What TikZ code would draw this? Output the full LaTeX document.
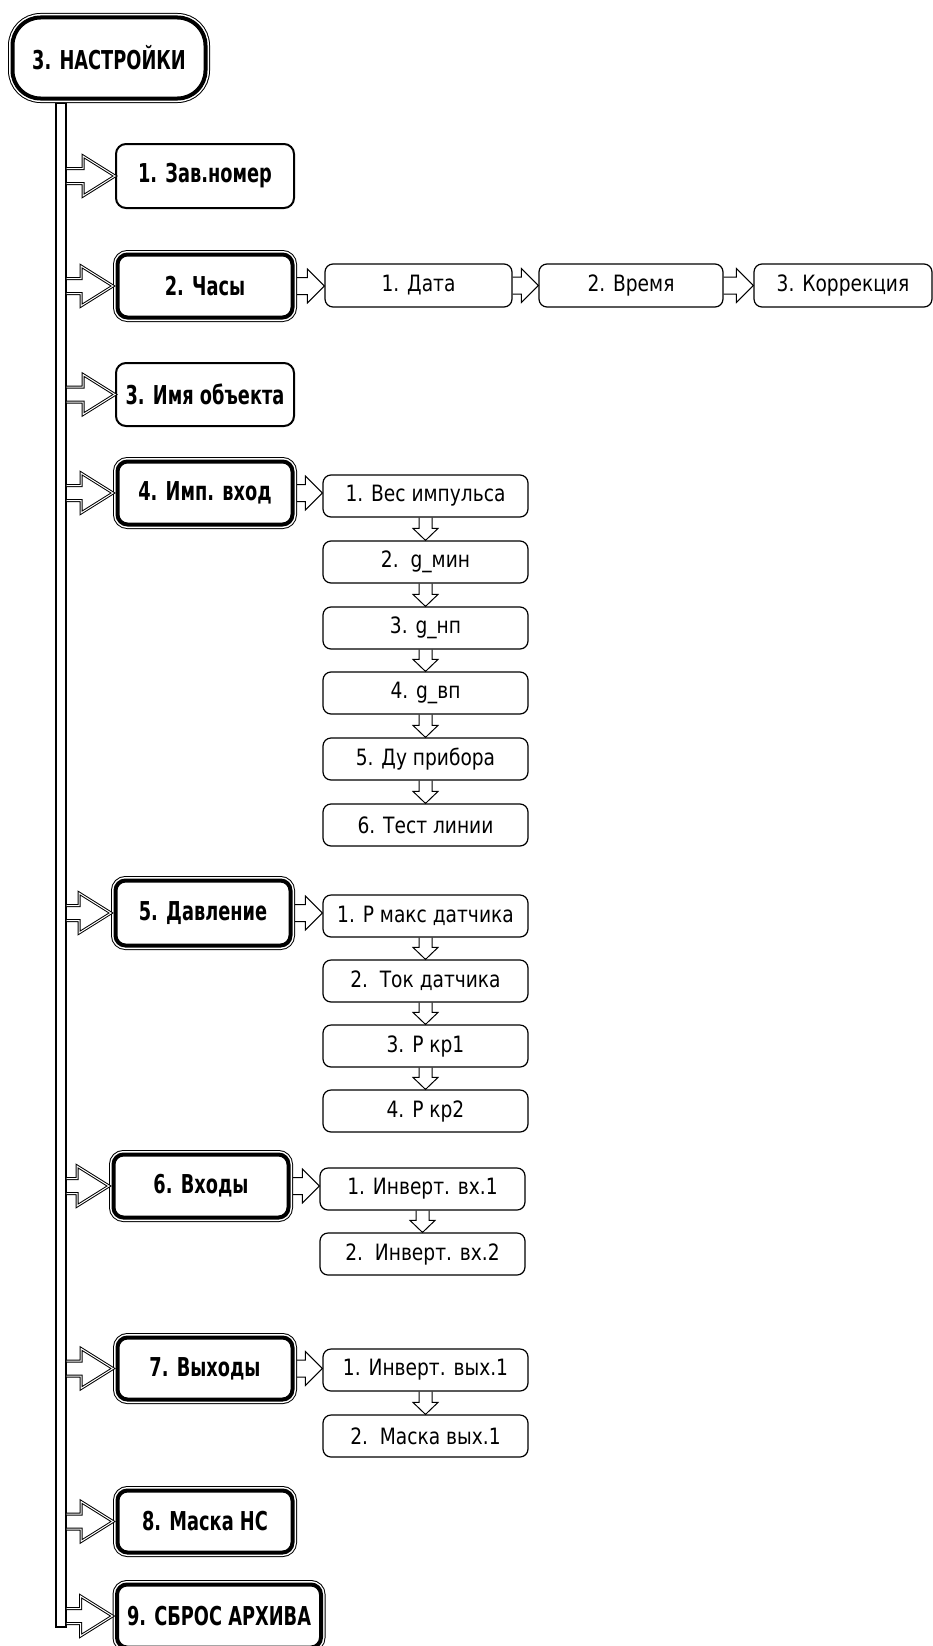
\documentclass[tikz,border=0pt]{standalone}
\usepackage{fontspec}
\setmainfont{DejaVu Sans Condensed}[FakeStretch=0.92, BoldFeatures={FakeStretch=0.76}]
\usetikzlibrary{calc}

% hollow arrow from the spine to a menu box
\newcommand{\branch}[1]{%
  \draw[branchline] let \p1=(spine.east |- #1.west), \p2=(#1.west) in
    (\x1,\y1+7.5pt) -- (\x2-32pt,\y1+7.5pt) -- (\x2-32pt,\y1+20pt) -- (\x2,\y1)
    -- (\x2-32pt,\y1-20pt) -- (\x2-32pt,\y1-7.5pt) -- (\x1,\y1-7.5pt);}
% hollow arrow to the right, box to box
\newcommand{\sidearrow}[2]{%
  \draw[subline] let \p1=(#1.east), \p2=(#2.west) in
    (\x1,\y1+8.5pt) -- (\x2-17pt,\y1+8.5pt) -- (\x2-17pt,\y1+17pt) -- (\x2,\y1)
    -- (\x2-17pt,\y1-17pt) -- (\x2-17pt,\y1-8.5pt) -- (\x1,\y1-8.5pt);}
% hollow arrow downwards, box to box
\newcommand{\stepdown}[2]{%
  \draw[subline] let \p1=(#1.south), \p2=(#2.north) in
    (\x1-6.5pt,\y1) -- (\x1-6.5pt,\y2+12pt) -- (\x1-12.5pt,\y2+12pt) -- (\x1,\y2)
    -- (\x1+12.5pt,\y2+12pt) -- (\x1+6.5pt,\y2+12pt) -- (\x1+6.5pt,\y1);}

\tikzset{
  mainbox/.style={rectangle, rounded corners=10pt, draw, fill=white, line width=4pt,
    preaction={draw, line width=9pt}, preaction={draw=white, line width=7pt},
    outer sep=4.5pt, inner sep=0pt, font=\fontsize{26}{30}\selectfont\bfseries},
  plainbox/.style={rectangle, rounded corners=10pt, draw, fill=white, line width=2pt,
    outer sep=1pt, inner sep=0pt, font=\fontsize{26}{30}\selectfont\bfseries},
  subbox/.style={rectangle, rounded corners=8pt, draw, fill=white, line width=1.2pt,
    inner sep=0pt, font=\fontsize{22.5}{26}\selectfont},
  spinebar/.style={rectangle, draw, fill=white, line width=1.3pt, inner sep=0pt},
  branchline/.style={line width=1pt, double, double distance=1pt, line join=miter},
  subline/.style={line width=1pt, line join=miter}
}

\begin{document}
\begin{tikzpicture}[x=1pt,y=-1pt]
  \useasboundingbox (0,0) rectangle (933,1646);
  % spine and title
  \node[spinebar, minimum width=10pt, minimum height=1524pt] (spine) at (61,865) {};
  \node[mainbox, rounded corners=28pt, minimum width=193pt, minimum height=81pt] (title) at (109,58) {3. НАСТРОЙКИ};

  % menu boxes
  \node[plainbox, minimum width=178pt, minimum height=64pt] (b1) at (205,176) {1. Зав.номер};
  \node[mainbox, minimum width=175pt, minimum height=63pt] (b2) at (205,286) {2. Часы};
  \node[plainbox, minimum width=178pt, minimum height=63pt] (b3) at (205,394.5) {3. Имя объекта};
  \node[mainbox, minimum width=175pt, minimum height=63pt] (b4) at (205,493) {4. Имп. вход};
  \node[mainbox, minimum width=175pt, minimum height=65pt] (b5) at (203,913) {5. Давление};
  \node[mainbox, minimum width=175pt, minimum height=63pt] (b6) at (201,1186) {6. Входы};
  \node[mainbox, minimum width=175pt, minimum height=62pt] (b7) at (205,1368.5) {7. Выходы};
  \node[mainbox, minimum width=175pt, minimum height=62pt] (b8) at (205,1521.5) {8. Маска НС};
  \node[mainbox, minimum width=204pt, minimum height=63pt] (b9) at (219,1616) {9. СБРОС АРХИВА};

  % clock row
  \node[subbox, minimum width=187pt, minimum height=43pt] (c1) at (418.5,285.5) {1. Дата};
  \node[subbox, minimum width=184pt, minimum height=43pt] (c2) at (631,285.5) {2. Время};
  \node[subbox, minimum width=178pt, minimum height=43pt] (c3) at (843,285.5) {3. Коррекция};

  % pulse input column
  \node[subbox, minimum width=205pt, minimum height=42pt] (i1) at (425.5,496) {1. Вес импульса};
  \node[subbox, minimum width=205pt, minimum height=42pt] (i2) at (425.5,562) {2.\ \ g\_мин};
  \node[subbox, minimum width=205pt, minimum height=42pt] (i3) at (425.5,628) {3. g\_нп};
  \node[subbox, minimum width=205pt, minimum height=42pt] (i4) at (425.5,693) {4. g\_вп};
  \node[subbox, minimum width=205pt, minimum height=42pt] (i5) at (425.5,759) {5. Ду прибора};
  \node[subbox, minimum width=205pt, minimum height=42pt] (i6) at (425.5,825) {6. Тест линии};

  % pressure column
  \node[subbox, minimum width=205pt, minimum height=42pt] (p1) at (425.5,916) {1. Р макс датчика};
  \node[subbox, minimum width=205pt, minimum height=42pt] (p2) at (425.5,981) {2.\ \ Ток датчика};
  \node[subbox, minimum width=205pt, minimum height=42pt] (p3) at (425.5,1046) {3. Р кр1};
  \node[subbox, minimum width=205pt, minimum height=42pt] (p4) at (425.5,1111) {4. Р кр2};

  % inputs and outputs
  \node[subbox, minimum width=205pt, minimum height=42pt] (v1) at (422.5,1189) {1. Инверт. вх.1};
  \node[subbox, minimum width=205pt, minimum height=42pt] (v2) at (422.5,1254) {2.\ \ Инверт. вх.2};
  \node[subbox, minimum width=205pt, minimum height=42pt] (o1) at (425.5,1370) {1. Инверт. вых.1};
  \node[subbox, minimum width=205pt, minimum height=42pt] (o2) at (425.5,1436) {2.\ \ Маска вых.1};

  % arrows
  \foreach \m in {b1,b2,b3,b4,b5,b6,b7,b8,b9} \branch{\m};
  \sidearrow{b2}{c1} \sidearrow{c1}{c2} \sidearrow{c2}{c3}
  \sidearrow{b4}{i1} \sidearrow{b5}{p1} \sidearrow{b6}{v1} \sidearrow{b7}{o1}
  \foreach \a/\b in {i1/i2,i2/i3,i3/i4,i4/i5,i5/i6,p1/p2,p2/p3,p3/p4,v1/v2,o1/o2}
    \stepdown{\a}{\b};
\end{tikzpicture}
\end{document}
